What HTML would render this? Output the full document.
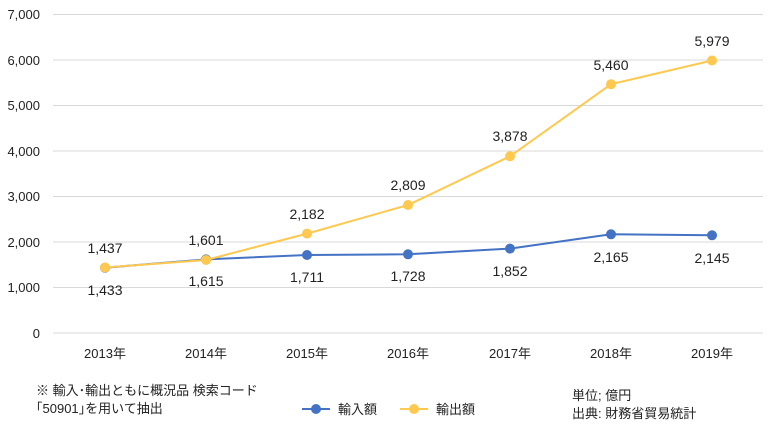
<!DOCTYPE html>
<html><head><meta charset="utf-8"><style>
body{margin:0;background:#fff}
svg{display:block}
text{font-family:"Liberation Sans","Noto Sans CJK JP",sans-serif;fill:#222}
</style></head><body>
<svg width="777" height="429" viewBox="0 0 777 429">
<g stroke="#d9d9d9" stroke-width="1">
<line x1="53" y1="333" x2="763" y2="333"/>
<line x1="53" y1="287.5" x2="763" y2="287.5"/>
<line x1="53" y1="242" x2="763" y2="242"/>
<line x1="53" y1="196.5" x2="763" y2="196.5"/>
<line x1="53" y1="151" x2="763" y2="151"/>
<line x1="53" y1="105.5" x2="763" y2="105.5"/>
<line x1="53" y1="60" x2="763" y2="60"/>
<line x1="53" y1="14.5" x2="763" y2="14.5"/>
</g>
<g font-size="13" text-anchor="end">
<text x="40" y="338">0</text>
<text x="40" y="292">1,000</text>
<text x="40" y="247">2,000</text>
<text x="40" y="201">3,000</text>
<text x="40" y="156">4,000</text>
<text x="40" y="110">5,000</text>
<text x="40" y="65">6,000</text>
<text x="40" y="19">7,000</text>
</g>
<g font-size="13" text-anchor="middle">
<text x="105" y="358">2013年</text><text x="206" y="358">2014年</text><text x="307" y="358">2015年</text><text x="408" y="358">2016年</text><text x="510" y="358">2017年</text><text x="611" y="358">2018年</text><text x="712" y="358">2019年</text>
</g>
<polyline fill="none" stroke="#4472C4" stroke-width="2" points="105,267.7 206,259.4 307,255 408,254.3 510,248.6 611,234.3 712,235.3"/>
<g fill="#4472C4"><circle cx="105" cy="267.7" r="5"/><circle cx="206" cy="259.4" r="5"/><circle cx="307" cy="255" r="5"/><circle cx="408" cy="254.3" r="5"/><circle cx="510" cy="248.6" r="5"/><circle cx="611" cy="234.3" r="5"/><circle cx="712" cy="235.3" r="5"/></g>
<polyline fill="none" stroke="#FFC94F" stroke-width="2" points="105,267.5 206,260 307,233.6 408,205 510,156.3 611,84.2 712,60.5"/>
<g fill="#FFC94F"><circle cx="105" cy="267.5" r="5"/><circle cx="206" cy="260" r="5"/><circle cx="307" cy="233.6" r="5"/><circle cx="408" cy="205" r="5"/><circle cx="510" cy="156.3" r="5"/><circle cx="611" cy="84.2" r="5"/><circle cx="712" cy="60.5" r="5"/></g>
<g font-size="14" text-anchor="middle">
<text x="105" y="253">1,437</text><text x="206" y="245">1,601</text><text x="307" y="219">2,182</text><text x="408" y="190">2,809</text><text x="510" y="141">3,878</text><text x="611" y="70">5,460</text><text x="712" y="46">5,979</text>
<text x="105" y="295">1,433</text><text x="206" y="286">1,615</text><text x="307" y="282">1,711</text><text x="408" y="281">1,728</text><text x="510" y="276">1,852</text><text x="611" y="262">2,165</text><text x="712" y="263">2,145</text>
</g>
<g font-size="13">
<text x="36" y="395">※ 輸入･輸出ともに概況品 検索コード</text>
<text x="36" y="413">｢50901｣を用いて抽出</text>
<text x="572" y="400">単位; 億円</text>
<text x="572" y="418">出典: 財務省貿易統計</text>
<text x="338" y="414">輸入額</text>
<text x="436" y="414">輸出額</text>
</g>
<line x1="302" y1="409" x2="330" y2="409" stroke="#4472C4" stroke-width="2"/><circle cx="316" cy="409" r="5" fill="#4472C4"/>
<line x1="400" y1="409" x2="428" y2="409" stroke="#FFC94F" stroke-width="2"/><circle cx="414" cy="409" r="5" fill="#FFC94F"/>
</svg>
</body></html>
